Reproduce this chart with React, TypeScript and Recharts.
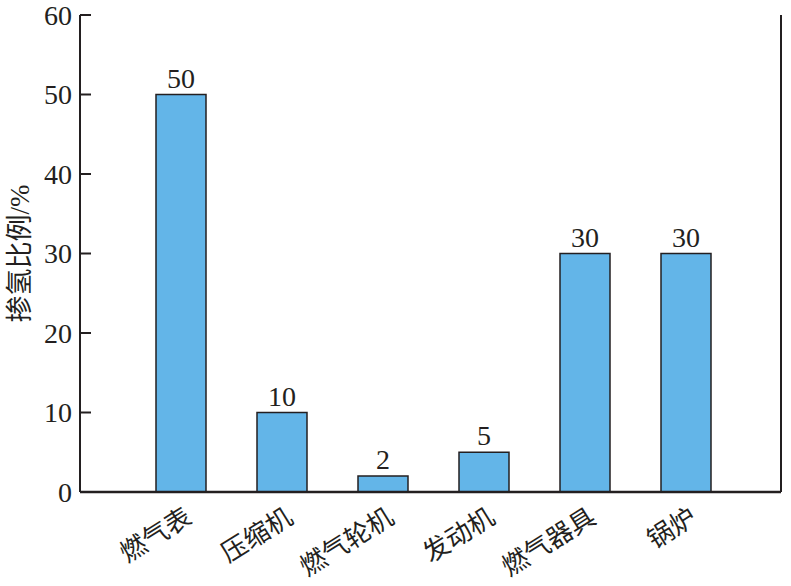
import { Bar, BarChart, LabelList, XAxis, YAxis } from "recharts";

const categories = ["燃气表", "压缩机", "燃气轮机", "发动机", "燃气器具", "锅炉"];
const ratios = [50, 10, 2, 5, 30, 30];
const yTicks = [0, 10, 20, 30, 40, 50, 60];

const data = categories.map((name, i) => ({ name, ratio: ratios[i] }));

const FONT =
  "'Times New Roman', 'Liberation Serif', 'DejaVu Serif', 'Noto Sans CJK SC', serif";
const INK = "#231f20";

function YTick({ x, y, payload }: any) {
  return (
    <g>
      <line x1={x} y1={y} x2={x + 11} y2={y} stroke={INK} strokeWidth={2} />
      <text
        x={x - 8}
        y={y}
        dy="0.34em"
        textAnchor="end"
        fontSize={28}
        style={{ fontFamily: FONT }}
        fill={INK}
      >
        {payload.value}
      </text>
    </g>
  );
}

function XTick({ x, y, payload }: any) {
  const tx = x + 13;
  const ty = y + 30;
  return (
    <text
      x={tx}
      y={ty}
      textAnchor="end"
      fontSize={26}
      style={{ fontFamily: FONT }}
      fill={INK}
      transform={`rotate(-32, ${tx}, ${ty})`}
    >
      {payload.value}
    </text>
  );
}

export default function App() {
  return (
    <div style={{ width: 791, height: 586, background: "#fff" }}>
      <style>{"body{margin:0}"}</style>
      <BarChart
        width={791}
        height={586}
        data={data}
        margin={{ top: 15, right: 9, left: 0, bottom: 0 }}
      >
        <XAxis
          dataKey="name"
          height={94}
          padding={{ left: 50, right: 45 }}
          tickLine={false}
          tickSize={0}
          tickMargin={0}
          interval={0}
          axisLine={{ stroke: INK, strokeWidth: 2.5 }}
          tick={<XTick />}
        />
        <XAxis
          xAxisId="top"
          orientation="top"
          dataKey="name"
          height={0}
          tick={false}
          tickLine={false}
          axisLine={{ stroke: INK, strokeWidth: 2 }}
        />
        <YAxis
          domain={[0, 60]}
          ticks={yTicks}
          width={80}
          tickLine={false}
          tickSize={0}
          tickMargin={0}
          axisLine={{ stroke: INK, strokeWidth: 2 }}
          tick={<YTick />}
          label={{
            value: "掺氢比例/%",
            angle: -90,
            position: "insideLeft",
            dx: 14,
            style: {
              fontSize: 27,
              fontFamily: FONT,
              fill: INK,
              textAnchor: "middle",
            },
          }}
        />
        <YAxis
          yAxisId="right"
          orientation="right"
          domain={[0, 60]}
          width={1}
          tick={false}
          tickLine={false}
          axisLine={{ stroke: INK, strokeWidth: 2 }}
        />
        <Bar
          dataKey="ratio"
          barSize={50}
          fill="#63b5e8"
          stroke={INK}
          strokeWidth={1.5}
          isAnimationActive={false}
        >
          <LabelList
            dataKey="ratio"
            position="top"
            offset={7}
            fontSize={28}
            style={{ fontFamily: FONT }}
            fill={INK}
          />
        </Bar>
      </BarChart>
    </div>
  );
}
